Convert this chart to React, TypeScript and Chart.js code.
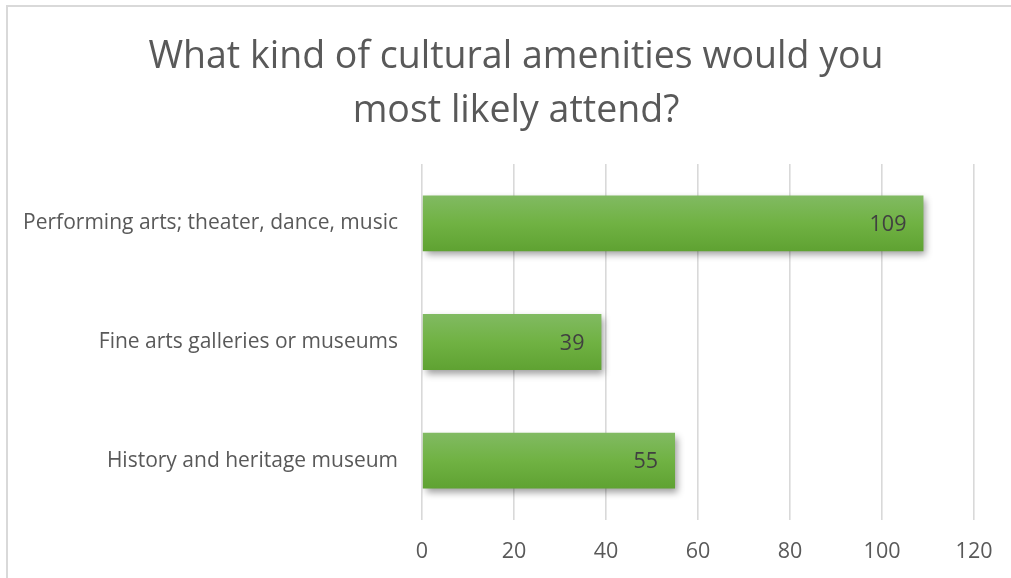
import React, { useEffect, useRef } from "react";
import { Chart, registerables } from "chart.js";

Chart.register(...registerables);

const titleLines = ["What kind of cultural amenities would you", "most likely attend?"];
const categories = [
  "Performing arts; theater, dance, music",
  "Fine arts galleries or museums",
  "History and heritage museum",
];
const values = [109, 39, 55];
const xTicks = [0, 20, 40, 60, 80, 100, 120];

const FONT = "'Open Sans', sans-serif";
const CAT_PCT = 0.47;

const framePlugin = {
  id: "frame",
  beforeDraw(chart: any) {
    const { ctx, width, height } = chart;
    ctx.save();
    ctx.fillStyle = "#ffffff";
    ctx.fillRect(0, 0, width, height);
    ctx.strokeStyle = "#d9d9d9";
    ctx.lineWidth = 2;
    ctx.beginPath();
    ctx.moveTo(7, height);
    ctx.lineTo(7, 6);
    ctx.lineTo(width, 6);
    ctx.stroke();
    ctx.restore();
  },
  afterLayout(chart: any) {
    const t = chart.titleBlock;
    if (t) {
      t.left = 21;
      t.right = chart.width;
      t.width = t.right - t.left;
    }
  },
};

const shadowPlugin = {
  id: "barShadow",
  beforeDatasetsDraw(chart: any) {
    const ctx = chart.ctx;
    ctx.save();
    ctx.shadowColor = "rgba(0,0,0,0.38)";
    ctx.shadowBlur = 7;
    ctx.shadowOffsetX = 3;
    ctx.shadowOffsetY = 4;
  },
  afterDatasetsDraw(chart: any) {
    chart.ctx.restore();
  },
};

const labelPlugin = {
  id: "valueLabels",
  afterDatasetsDraw(chart: any) {
    const ctx = chart.ctx;
    const meta = chart.getDatasetMeta(0);
    ctx.save();
    ctx.font = `21.5px ${FONT}`;
    ctx.fillStyle = "#404040";
    ctx.textAlign = "right";
    ctx.textBaseline = "middle";
    meta.data.forEach((el: any, i: number) => {
      ctx.fillText(String(values[i]), el.x - 17, el.y + 1.5);
    });
    ctx.restore();
  },
};

export default function App() {
  const ref = useRef<HTMLCanvasElement | null>(null);
  useEffect(() => {
    if (!ref.current) return;
    const chart = new Chart(ref.current, {
      type: "bar",
      data: {
        labels: categories,
        datasets: [
          {
            data: values,
            barPercentage: 1,
            categoryPercentage: CAT_PCT,
            backgroundColor: (c: any) => {
              const ch = c.chart;
              const ys = ch.scales && ch.scales.y;
              const area = ch.chartArea;
              if (!ys || !area || c.dataIndex === undefined) return "#70b244";
              const cy = ys.getPixelForValue(c.dataIndex);
              const th = ((area.bottom - area.top) / categories.length) * CAT_PCT;
              const g = ch.ctx.createLinearGradient(0, cy - th / 2, 0, cy + th / 2);
              g.addColorStop(0, "#81ba62");
              g.addColorStop(0.5, "#70b243");
              g.addColorStop(1, "#5fa232");
              return g;
            },
            borderWidth: 0,
          },
        ],
      },
      options: {
        indexAxis: "y",
        responsive: false,
        animation: false,
        events: [],
        layout: { padding: { left: 0, right: 35, top: 0, bottom: 16 } },
        plugins: {
          legend: { display: false },
          tooltip: { enabled: false },
          title: {
            display: true,
            text: titleLines,
            color: "#595959",
            font: { family: FONT, size: 37.5, weight: "normal", lineHeight: 1.42 },
            padding: { top: 31, bottom: 26.5 },
          },
        },
        scales: {
          x: {
            min: 0,
            max: 120,
            afterBuildTicks: (s: any) => {
              s.ticks = xTicks.map((v) => ({ value: v }));
            },
            afterFit: (s: any) => {
              s.height = 42;
            },
            grid: { color: "#d9d9d9", lineWidth: 1.6, drawTicks: false },
            border: { display: false },
            ticks: {
              color: "#595959",
              font: { family: FONT, size: 21.5 },
              padding: 18.5,
            },
          },
          y: {
            grid: { display: false, drawTicks: false },
            border: { display: false },
            afterFit: (s: any) => {
              s.width = 422;
            },
            ticks: {
              color: "#595959",
              font: { family: FONT, size: 21 },
              padding: 24,
            },
          },
        },
      },
      plugins: [framePlugin, shadowPlugin, labelPlugin],
    });
    return () => chart.destroy();
  }, []);
  return (
    <div style={{ position: "fixed", left: 0, top: 0, width: 1011, height: 578, background: "#fff" }}>
      <canvas ref={ref} width={1011} height={578} style={{ width: 1011, height: 578, display: "block" }} />
    </div>
  );
}
